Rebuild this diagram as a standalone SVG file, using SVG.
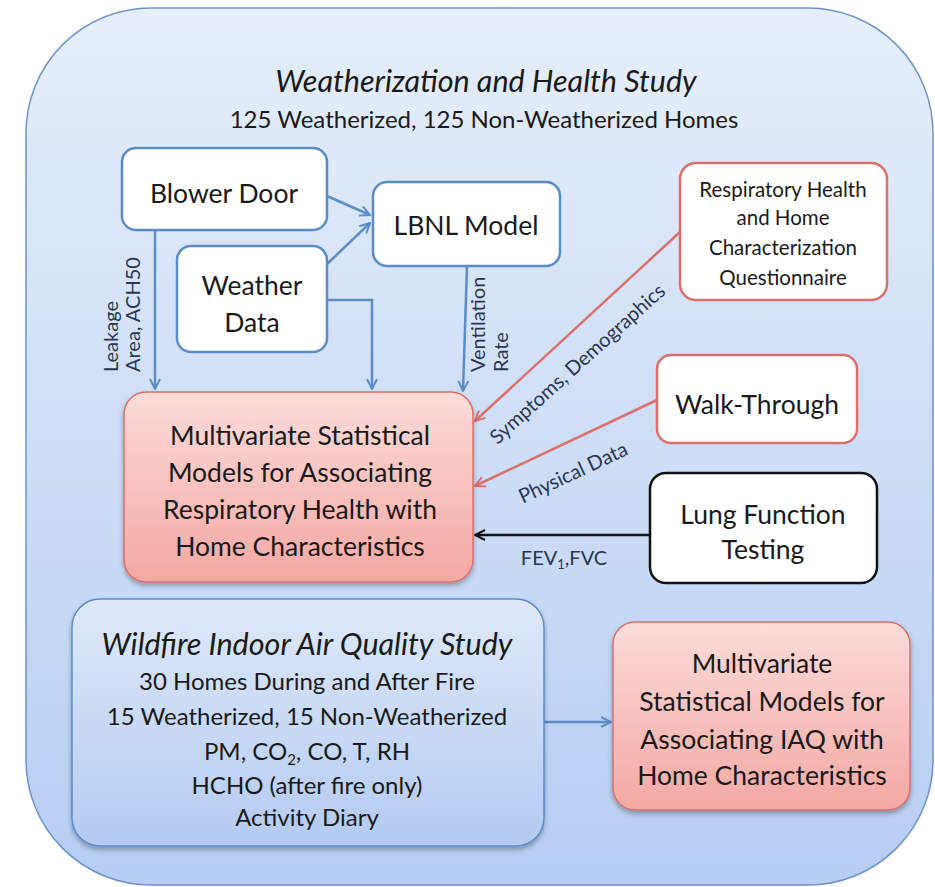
<svg xmlns="http://www.w3.org/2000/svg" width="935" height="887" viewBox="0 0 935 887">
<defs>
<linearGradient id="gOuter" x1="0" y1="0" x2="0" y2="1">
<stop offset="0" stop-color="#e6eefa"/>
<stop offset="1" stop-color="#b6cef3"/>
</linearGradient>
<linearGradient id="gWild" x1="0" y1="0" x2="0" y2="1">
<stop offset="0" stop-color="#dfe9f9"/>
<stop offset="1" stop-color="#b3cbf1"/>
</linearGradient>
<linearGradient id="gPink" x1="0" y1="0" x2="0" y2="1">
<stop offset="0" stop-color="#fbdcd9"/>
<stop offset="1" stop-color="#f4a8a3"/>
</linearGradient>
<filter id="shadow" x="-10%" y="-10%" width="120%" height="125%">
<feDropShadow dx="0" dy="3" stdDeviation="2.5" flood-color="#000" flood-opacity="0.3"/>
</filter>
<marker id="aBlue" viewBox="0 0 12 12" refX="11" refY="6" markerWidth="12" markerHeight="12" markerUnits="userSpaceOnUse" orient="auto">
<polyline points="1,1 11,6 1,11" fill="none" stroke="#5b8cc6" stroke-width="2"/>
</marker>
<marker id="aRed" viewBox="0 0 12 12" refX="11" refY="6" markerWidth="12" markerHeight="12" markerUnits="userSpaceOnUse" orient="auto">
<polyline points="1,1 11,6 1,11" fill="none" stroke="#d9706b" stroke-width="2"/>
</marker>
<marker id="aBlack" viewBox="0 0 12 12" refX="11" refY="6" markerWidth="12" markerHeight="12" markerUnits="userSpaceOnUse" orient="auto">
<polyline points="1,1 11,6 1,11" fill="none" stroke="#111" stroke-width="2"/>
</marker>
</defs>
<style>
text { font-family: Lato, "Open Sans", "Liberation Sans", sans-serif; fill: #1a1a1a; text-anchor: middle; }
.t24 { font-size: 26.5px; }
.t22 { font-size: 24px; }
.t18 { font-size: 20.5px; }
.lab { font-size: 20px; fill: #2a3550; }
.st { text-anchor: start; }
.it { font-style: italic; font-size: 30.5px; }
.bbox { fill: #ffffff; stroke: #5b8cc6; stroke-width: 2.5; }
.rbox { fill: #ffffff; stroke: #d9706b; stroke-width: 2.5; }
.kbox { fill: #ffffff; stroke: #111111; stroke-width: 2.5; }
.pbox { fill: url(#gPink); stroke: #d9706b; stroke-width: 1.5; }
.blue { fill: none; stroke: #5b8cc6; stroke-width: 2.5; marker-end: url(#aBlue); }
.red { fill: none; stroke: #d9706b; stroke-width: 2.5; marker-end: url(#aRed); }
.black { fill: none; stroke: #111; stroke-width: 2.5; marker-end: url(#aBlack); }
</style>

<g id="outer">
<rect x="26" y="8" width="907" height="877" rx="125" ry="125" fill="url(#gOuter)" stroke="#6f93c8" stroke-width="1.5"/>
<text class="it" x="486" y="92">Weatherization and Health Study</text>
<text class="t22" x="484" y="128">125 Weatherized,  125 Non-Weatherized Homes</text>
</g>

<g id="connectors">
<line class="blue" x1="327" y1="196" x2="370" y2="215"/>
<line class="blue" x1="327" y1="264" x2="370" y2="223"/>
<line class="blue" x1="155" y1="230" x2="155" y2="389"/>
<polyline class="blue" points="327,300 372,300 372,389"/>
<line class="blue" x1="467" y1="266" x2="463" y2="391"/>
<line class="red" x1="680" y1="232" x2="475" y2="421"/>
<line class="red" x1="657" y1="400" x2="475" y2="486"/>
<line class="black" x1="650" y1="535" x2="475" y2="535"/>
<line class="blue" x1="544" y1="722" x2="611" y2="722"/>
<text class="lab st" transform="translate(118,372) rotate(-90)">Leakage</text>
<text class="lab st" transform="translate(140,372) rotate(-90)">Area, ACH50</text>
<text class="lab st" transform="translate(485,372) rotate(-90)">Ventilation</text>
<text class="lab st" transform="translate(508,372) rotate(-90)">Rate</text>
<text class="lab" transform="translate(582,369) rotate(-42)">Symptoms, Demographics</text>
<text class="lab" transform="translate(576,479) rotate(-25)">Physical Data</text>
<text class="lab" x="564" y="565">FEV<tspan font-size="13" dy="4">1</tspan><tspan dy="-4">,FVC</tspan></text>
</g>

<g id="blower-door">
<rect class="bbox" x="122" y="148" width="205" height="82" rx="14"/>
<text class="t24" x="224" y="203">Blower Door</text>
</g>

<g id="lbnl-model">
<rect class="bbox" x="373" y="182" width="187" height="84" rx="14"/>
<text class="t24" x="466" y="235">LBNL Model</text>
</g>

<g id="weather-data">
<rect class="bbox" x="177" y="246" width="150" height="106" rx="14"/>
<text class="t24" x="252" y="295">Weather</text>
<text class="t24" x="252" y="332">Data</text>
</g>

<g id="questionnaire">
<rect class="rbox" x="680" y="163" width="207" height="137" rx="16"/>
<text class="t18" x="783" y="197">Respiratory Health</text>
<text class="t18" x="783" y="225">and Home</text>
<text class="t18" x="783" y="255">Characterization</text>
<text class="t18" x="783" y="285">Questionnaire</text>
</g>

<g id="walk-through">
<rect class="rbox" x="657" y="355" width="200" height="88" rx="14"/>
<text class="t24" x="757" y="414">Walk-Through</text>
</g>

<g id="lung-function">
<rect class="kbox" x="650" y="473" width="227" height="110" rx="16"/>
<text class="t24" x="763" y="524">Lung Function</text>
<text class="t24" x="763" y="559">Testing</text>
</g>

<g id="resp-models">
<rect class="pbox" x="124" y="392" width="349" height="190" rx="22" filter="url(#shadow)"/>
<text class="t24" x="300" y="445">Multivariate Statistical</text>
<text class="t24" x="300" y="482">Models for Associating</text>
<text class="t24" x="300" y="519">Respiratory Health with</text>
<text class="t24" x="300" y="556">Home Characteristics</text>
</g>

<g id="wildfire">
<rect x="72" y="599" width="472" height="247" rx="28" fill="url(#gWild)" stroke="#5b8cc6" stroke-width="1.5" filter="url(#shadow)"/>
<text class="it" x="307" y="655">Wildfire Indoor Air Quality Study</text>
<text class="t22" x="307" y="690">30 Homes During and After Fire</text>
<text class="t22" x="307" y="725">15 Weatherized, 15 Non-Weatherized</text>
<text class="t22" x="307" y="760">PM, CO<tspan font-size="15" dy="5">2</tspan><tspan dy="-5">, CO, T, RH</tspan></text>
<text class="t22" x="307" y="794">HCHO (after fire only)</text>
<text class="t22" x="307" y="826">Activity Diary</text>
</g>

<g id="iaq-models">
<rect class="pbox" x="613" y="622" width="297" height="188" rx="22" filter="url(#shadow)"/>
<text class="t24" x="762" y="673">Multivariate</text>
<text class="t24" x="762" y="711">Statistical Models for</text>
<text class="t24" x="762" y="749">Associating IAQ with</text>
<text class="t24" x="762" y="785">Home Characteristics</text>
</g>
</svg>
